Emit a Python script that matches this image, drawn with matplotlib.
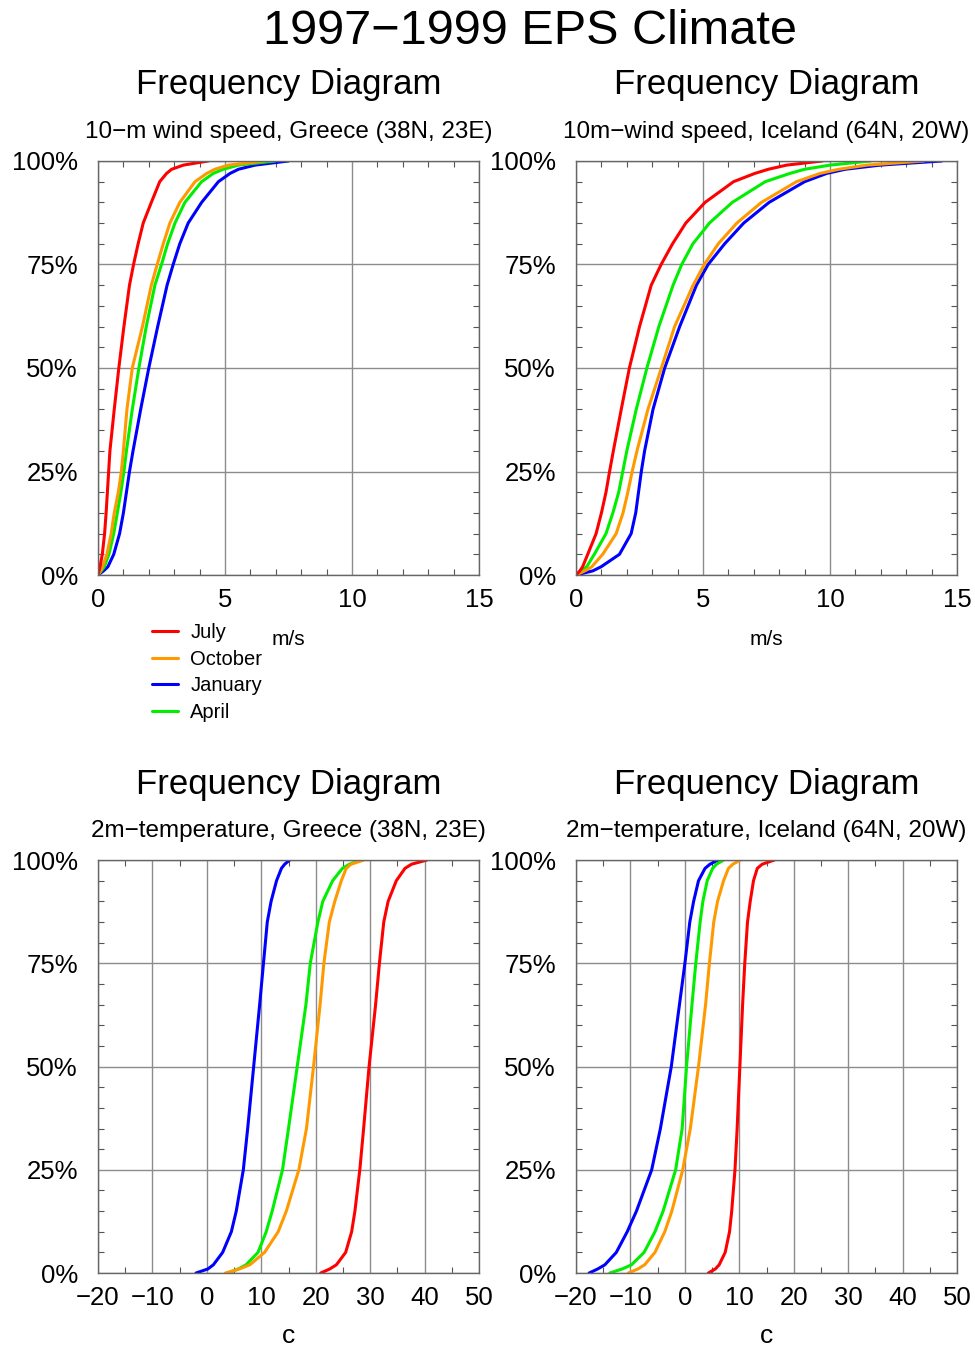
import matplotlib
matplotlib.use("Agg")
import matplotlib.pyplot as plt
from matplotlib.ticker import MultipleLocator, FixedLocator

plt.rcParams['font.family'] = ['Liberation Sans', 'DejaVu Sans']

months = ["July", "October", "January", "April"]
colors = {"July": "#ff0000", "October": "#ff9900", "January": "#0000ff", "April": "#00ee00"}
draw_order = ["January", "April", "October", "July"]

# cumulative frequency levels (%)
wind_levels = [0, 1, 2, 5, 10, 15, 20, 25, 30, 40, 50, 60, 70, 75, 80, 85, 90, 95, 97, 98, 99, 100]
temp_levels = [0, 1, 2, 5, 10, 15, 25, 35, 50, 65, 75, 85, 90, 95, 98, 99, 100]

# 10-m wind speed, Greece (m/s at each level)
greece_wind = {
    "July":    [0.0, 0.04, 0.08, 0.17, 0.26, 0.32, 0.37, 0.42, 0.47, 0.64, 0.82, 1.02, 1.24, 1.40, 1.58, 1.78, 2.10, 2.43, 2.70, 2.90, 3.36, 4.34],
    "October": [0.0, 0.10, 0.18, 0.35, 0.52, 0.64, 0.80, 0.92, 1.00, 1.14, 1.35, 1.75, 2.10, 2.33, 2.57, 2.83, 3.22, 3.82, 4.28, 4.60, 5.13, 6.58],
    "April":   [0.0, 0.13, 0.25, 0.43, 0.62, 0.76, 0.90, 1.02, 1.12, 1.35, 1.61, 1.90, 2.24, 2.50, 2.74, 3.03, 3.42, 4.08, 4.54, 4.93, 5.53, 6.97],
    "January": [0.0, 0.22, 0.39, 0.62, 0.85, 1.00, 1.12, 1.24, 1.38, 1.68, 2.00, 2.35, 2.72, 2.96, 3.22, 3.55, 4.08, 4.74, 5.20, 5.53, 6.18, 7.50],
}

# 10m-wind speed, Iceland (m/s at each level)
iceland_wind = {
    "July":    [0.0, 0.15, 0.26, 0.46, 0.79, 1.00, 1.18, 1.32, 1.47, 1.78, 2.10, 2.50, 2.96, 3.35, 3.80, 4.32, 5.08, 6.20, 7.04, 7.57, 8.29, 9.70],
    "April":   [0.0, 0.22, 0.42, 0.72, 1.18, 1.45, 1.68, 1.84, 2.00, 2.37, 2.79, 3.26, 3.82, 4.16, 4.60, 5.25, 6.15, 7.45, 8.42, 9.00, 10.00, 11.60],
    "October": [0.0, 0.35, 0.62, 1.05, 1.58, 1.85, 2.04, 2.21, 2.40, 2.83, 3.36, 3.88, 4.61, 5.05, 5.60, 6.33, 7.30, 8.68, 9.61, 10.35, 11.45, 13.70],
    "January": [0.0, 0.66, 0.99, 1.71, 2.17, 2.35, 2.46, 2.57, 2.70, 3.03, 3.49, 4.08, 4.74, 5.20, 5.85, 6.60, 7.60, 9.00, 9.87, 10.60, 11.97, 14.40],
}

# 2m-temperature, Greece (C at each level)
greece_temp = {
    "January": [-2.0, 0.2, 1.2, 2.9, 4.5, 5.4, 6.7, 7.5, 8.6, 9.7, 10.4, 11.1, 11.8, 12.8, 13.7, 14.3, 15.2],
    "April":   [3.9, 5.8, 7.2, 9.4, 10.9, 12.0, 13.9, 15.0, 16.6, 18.2, 19.0, 20.4, 21.3, 23.1, 24.9, 26.2, 28.2],
    "October": [3.4, 6.0, 7.9, 10.6, 13.1, 14.6, 16.9, 18.3, 19.6, 20.8, 21.5, 22.5, 23.5, 24.7, 25.6, 26.5, 28.8],
    "July":    [20.9, 22.6, 23.8, 25.5, 26.6, 27.2, 28.1, 28.8, 29.8, 31.0, 31.7, 32.5, 33.3, 34.8, 36.4, 37.6, 40.4],
}

# 2m-temperature, Iceland (C at each level)
iceland_temp = {
    "January": [-17.6, -16.0, -14.7, -12.6, -10.6, -8.9, -6.1, -4.5, -2.5, -1.0, 0.0, 0.9, 1.6, 2.5, 3.7, 4.6, 6.1],
    "April":   [-13.8, -11.5, -9.8, -7.5, -5.5, -4.0, -1.7, -0.5, 0.3, 1.3, 2.0, 2.8, 3.3, 4.1, 5.1, 5.8, 7.1],
    "October": [-10.4, -8.6, -7.4, -5.5, -3.7, -2.4, -0.4, 1.0, 2.5, 3.8, 4.5, 5.3, 6.0, 7.1, 8.0, 8.8, 10.2],
    "July":    [4.3, 5.6, 6.3, 7.4, 8.2, 8.6, 9.2, 9.6, 10.1, 10.6, 11.0, 11.5, 12.0, 12.6, 13.3, 14.2, 16.4],
}

y_ticks = [0, 25, 50, 75, 100]
y_labels = ["0%", "25%", "50%", "75%", "100%"]

panels = [
    dict(pos=[0.1005, 0.5728, 0.3908, 0.3076], sub="10\u2212m wind speed, Greece (38N, 23E)",
         data=greece_wind, levels=wind_levels, xlim=(0, 15), major=5, minor=1, xlabel="m/s",
         xlabel_size=15, xlabel_y=-0.1546),
    dict(pos=[0.5908, 0.5728, 0.3908, 0.3076], sub="10m\u2212wind speed, Iceland (64N, 20W)",
         data=iceland_wind, levels=wind_levels, xlim=(0, 15), major=5, minor=1, xlabel="m/s",
         xlabel_size=15, xlabel_y=-0.1546),
    dict(pos=[0.1005, 0.0542, 0.3908, 0.3068], sub="2m\u2212temperature, Greece (38N, 23E)",
         data=greece_temp, levels=temp_levels, xlim=(-20, 50), major=10, minor=5, xlabel="c",
         xlabel_size=19, xlabel_y=-0.1525),
    dict(pos=[0.5908, 0.0542, 0.3908, 0.3068], sub="2m\u2212temperature, Iceland (64N, 20W)",
         data=iceland_temp, levels=temp_levels, xlim=(-20, 50), major=10, minor=5, xlabel="c",
         xlabel_size=19, xlabel_y=-0.1525),
]

fig = plt.figure(figsize=(9.75, 13.46), dpi=100)
fig.text(0.5436, 0.9765, "1997\u22121999 EPS Climate", ha="center", va="center", fontsize=35)

axes = []
for p in panels:
    ax = fig.add_axes(p["pos"])
    for m in draw_order:
        ax.plot(p["data"][m], p["levels"], color=colors[m], lw=2.2, label=m,
                solid_capstyle="round", solid_joinstyle="round")
    ax.set_xlim(*p["xlim"])
    ax.set_ylim(0, 100)
    ax.xaxis.set_major_locator(MultipleLocator(p["major"]))
    ax.xaxis.set_minor_locator(MultipleLocator(p["minor"]))
    ax.yaxis.set_major_locator(FixedLocator(y_ticks))
    ax.yaxis.set_minor_locator(MultipleLocator(5))
    ax.set_yticklabels(y_labels)
    ax.grid(True, which="major", color="#8c8c8c", lw=1.0)
    ax.set_axisbelow(True)
    ax.tick_params(which="both", direction="in", top=True, right=True, labelsize=18.5,
                   color="#555555")
    ax.tick_params(which="major", length=0)
    ax.tick_params(axis="y", which="major", pad=14.5)
    ax.tick_params(axis="x", which="major", pad=9)
    ax.tick_params(which="minor", length=4, width=0.8)
    for s in ax.spines.values():
        s.set_color("#666666")
        s.set_linewidth(1.0)
    ax.set_xlabel(p["xlabel"], fontsize=p["xlabel_size"])
    ax.xaxis.set_label_coords(0.5, p["xlabel_y"])
    ax.xaxis.label.set_va("center")
    cx = p["pos"][0] + p["pos"][2] / 2
    top = p["pos"][1] + p["pos"][3]
    fig.text(cx, top + 0.0565, "Frequency Diagram", ha="center", va="center",
             fontsize=25)
    fig.text(cx, top + 0.0213, p["sub"], ha="center", va="center", fontsize=17.5)
    axes.append(ax)

handles, labels = axes[0].get_legend_handles_labels()
order = [labels.index(m) for m in months]
fig.legend([handles[i] for i in order], months, loc="upper left",
           bbox_to_anchor=(0.1559, 0.5372), frameon=False, fontsize=14.5,
           handlelength=1.3, handletextpad=0.6, labelspacing=0.38, borderpad=0,
           borderaxespad=0)

fig.savefig("out.png", dpi=100)
